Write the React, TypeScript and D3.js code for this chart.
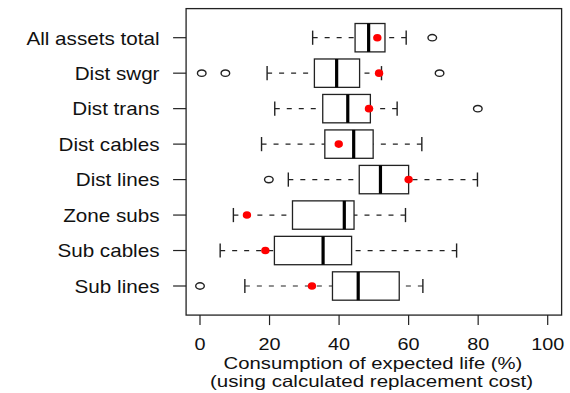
import React from "react";
import * as d3 from "d3";

// Asset categories, listed from the top row down
const categories = [
  "All assets total",
  "Dist swgr",
  "Dist trans",
  "Dist cables",
  "Dist lines",
  "Zone subs",
  "Sub cables",
  "Sub lines",
];

// Five-number summaries (% of expected life consumed)
const whiskerLow = [32.4, 19.3, 21.5, 17.7, 25.4, 9.6, 5.8, 12.9];
const q1 = [44.6, 32.9, 35.3, 35.9, 45.8, 26.6, 21.4, 38.1];
const median = [48.5, 39.3, 42.5, 44.2, 51.9, 41.5, 35.4, 45.5];
const q3 = [53.2, 45.9, 49.0, 49.8, 60.0, 44.3, 43.6, 57.3];
const whiskerHigh = [59.3, 52.2, 56.7, 63.8, 79.8, 59.1, 73.8, 64.1];

// Weighted means (red markers)
const means = [51.0, 51.5, 48.6, 39.9, 60.0, 13.5, 18.8, 32.2];

// Outlying points per category
const outliers = [[66.8], [0.5, 7.3, 68.9], [79.9], [], [19.8], [], [], [0]];

const xTicks = [0, 20, 40, 60, 80, 100];

const W = 570;
const H = 393;
const FONT = "'Liberation Sans', Arial, Helvetica, sans-serif";

function Txt({
  tx,
  ty,
  anchor,
  size,
  sx,
  children,
}: {
  tx: number;
  ty: number;
  anchor: string;
  size: number;
  sx: number;
  children: React.ReactNode;
}) {
  return (
    <g transform={`translate(${tx},${ty}) scale(${sx},1)`}>
      <text
        x={0}
        y={0}
        textAnchor={anchor}
        fontFamily={FONT}
        fontSize={size}
        fill="#111"
      >
        {children}
      </text>
    </g>
  );
}

export default function App() {
  const x = d3.scaleLinear().domain([0, 100]).range([200, 547.7]);
  const n = categories.length;
  // row position: 1 at bottom, n at top, with R-style 4% padding
  const y = d3.scaleLinear().domain([1, n]).range([286, 37.7]);
  const rowY = (i: number) => y(n - i);
  const half = y(1) - y(1.4);
  const staple = half / 2;

  const left = x(-4);
  const right = x(104);
  const top = y(n + 0.82);
  const bottom = y(0.18);

  return (
    <svg
      width={W}
      height={H}
      style={{ position: "absolute", left: 0, top: 0, background: "#fff" }}
    >
      <rect x={0} y={0} width={W} height={H} fill="#fff" />

      {categories.map((c, i) => {
        const cy = rowY(i);
        return (
          <g key={c}>
            {/* whiskers */}
            <line
              x1={x(whiskerLow[i])}
              x2={x(q1[i])}
              y1={cy}
              y2={cy}
              stroke="#222"
              strokeWidth={1.2}
              strokeDasharray="5 7"
            />
            <line
              x1={x(whiskerHigh[i])}
              x2={x(q3[i])}
              y1={cy}
              y2={cy}
              stroke="#222"
              strokeWidth={1.2}
              strokeDasharray="5 7"
            />
            <line
              x1={x(whiskerLow[i])}
              x2={x(whiskerLow[i])}
              y1={cy - staple}
              y2={cy + staple}
              stroke="#222"
              strokeWidth={1.4}
            />
            <line
              x1={x(whiskerHigh[i])}
              x2={x(whiskerHigh[i])}
              y1={cy - staple}
              y2={cy + staple}
              stroke="#222"
              strokeWidth={1.4}
            />
            {/* box */}
            <rect
              x={x(q1[i])}
              y={cy - half}
              width={x(q3[i]) - x(q1[i])}
              height={half * 2}
              fill="#fff"
              stroke="#222"
              strokeWidth={1.3}
            />
            <line
              x1={x(median[i])}
              x2={x(median[i])}
              y1={cy - half}
              y2={cy + half}
              stroke="#000"
              strokeWidth={3.2}
            />
            {/* outliers */}
            {outliers[i].map((v, k) => (
              <ellipse
                key={k}
                cx={x(v)}
                cy={cy}
                rx={4.3}
                ry={3.2}
                fill="none"
                stroke="#222"
                strokeWidth={1.4}
              />
            ))}
            {/* mean */}
            <ellipse cx={x(means[i])} cy={cy} rx={4.2} ry={3.8} fill="#ff0000" />
            {/* y tick and label */}
            <line
              x1={left - 13}
              x2={left}
              y1={cy}
              y2={cy}
              stroke="#222"
              strokeWidth={1.2}
            />
            <Txt tx={159.5} ty={cy + 6.8} anchor="end" size={17.5} sx={1.18}>
              {c}
            </Txt>
          </g>
        );
      })}

      {/* plot frame */}
      <rect
        x={left}
        y={top}
        width={right - left}
        height={bottom - top}
        fill="none"
        stroke="#222"
        strokeWidth={1.3}
      />

      {/* x axis ticks */}
      {xTicks.map((t) => (
        <g key={t}>
          <line
            x1={x(t)}
            x2={x(t)}
            y1={bottom}
            y2={bottom + 10}
            stroke="#222"
            strokeWidth={1.2}
          />
          <Txt tx={x(t)} ty={350} anchor="middle" size={16} sx={1.24}>
            {t}
          </Txt>
        </g>
      ))}

      <Txt tx={373} ty={369} anchor="middle" size={16.5} sx={1.23}>
        Consumption of expected life (%)
      </Txt>
      <Txt tx={371.5} ty={386.5} anchor="middle" size={16.5} sx={1.245}>
        (using calculated replacement cost)
      </Txt>
    </svg>
  );
}
